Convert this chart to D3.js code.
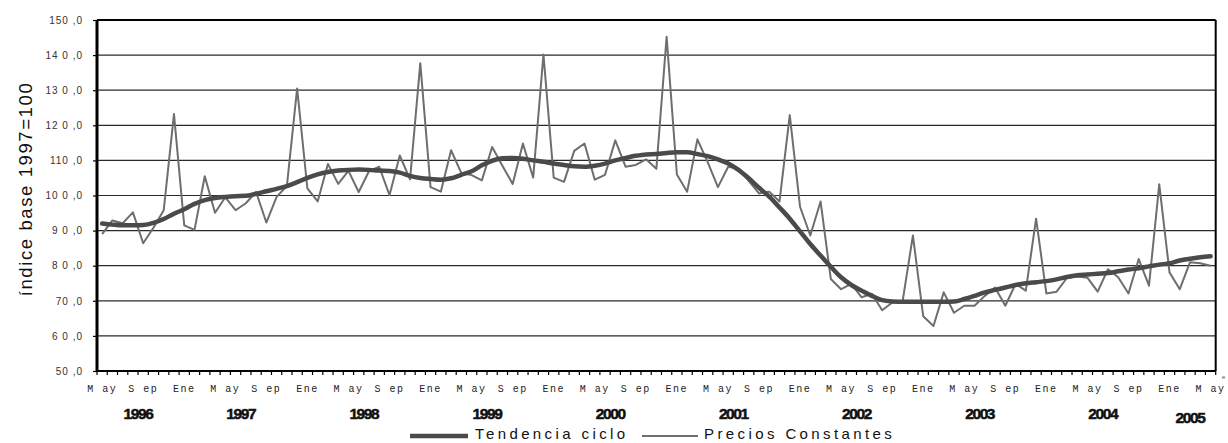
<!DOCTYPE html>
<html>
<head>
<meta charset="utf-8">
<script src="https://cdn.jsdelivr.net/npm/d3@7"></script>
<style>
  body { margin: 0; background: #fff; }
  svg { display: block; }
  .ytick text { font-family: "Liberation Sans", Arial, sans-serif; font-size: 10px; letter-spacing: 1px; fill: #333; }
  .mlabel { font-family: "Liberation Mono", monospace; font-size: 10px; letter-spacing: 1.5px; fill: #222; }
  .ylabel { font-family: "Liberation Sans", Arial, sans-serif; font-size: 15.5px; font-weight: bold; letter-spacing: -1.4px; fill: #111; stroke: #111; stroke-width: 0.5px; }
  .legend text { font-family: "Liberation Sans", Arial, sans-serif; font-size: 15px; letter-spacing: 3.4px; fill: #111; }
</style>
</head>
<body>
<div id="chart"></div>
<script>
var svgWidth = 1228;
var svgHeight = 443;

var margin = { top: 20, right: 12.3, bottom: 72, left: 97 };
var width = svgWidth - margin.left - margin.right;
var height = svgHeight - margin.top - margin.bottom;

// months May 1996 .. May 2005
var monthNames = ["Ene", "Feb", "Mar", "Abr", "May", "Jun", "Jul", "Ago", "Sep", "Oct", "Nov", "Dic"];
var categories = [];
for (var yr = 1996; yr <= 2005; yr++) {
    for (var m = 0; m < 12; m++) {
        if (yr === 1996 && m < 4) continue;
        if (yr === 2005 && m > 4) continue;
        categories.push({ year: yr, month: monthNames[m] });
    }
}

var years = [1996, 1997, 1998, 1999, 2000, 2001, 2002, 2003, 2004, 2005];

var tendencia = [
    92.0, 91.7, 91.5, 91.5, 91.6, 92.2, 93.3, 94.8, 96.1, 97.6, 98.7, 99.3,
    99.6, 99.8, 99.9, 100.5, 101.2, 101.9, 102.7, 103.8, 105.0, 106.0, 106.7, 107.1,
    107.3, 107.4, 107.3, 107.1, 107.0, 106.5, 105.6, 105.0, 104.7, 104.5, 104.9, 105.9,
    106.9, 108.6, 109.9, 110.6, 110.7, 110.5, 110.0, 109.6, 109.1, 108.7, 108.3, 108.2,
    108.5, 109.1, 110.0, 110.7, 111.3, 111.7, 111.8, 112.1, 112.3, 112.3, 111.8, 111.2,
    110.3, 109.1, 107.3, 104.9, 102.2, 99.7, 96.6, 93.4, 89.8, 86.2, 82.9, 79.7,
    76.7, 74.5, 72.9, 71.4, 70.2, 69.8, 69.7, 69.7, 69.7, 69.7, 69.7, 69.8,
    70.5, 71.4, 72.4, 73.1, 73.8, 74.5, 75.0, 75.3, 75.6, 76.1, 76.8, 77.3,
    77.5, 77.7, 77.9, 78.4, 78.9, 79.3, 79.8, 80.3, 80.7, 81.5, 82.0, 82.4,
    82.7
];

var precios = [
    89.0, 92.9, 92.1, 95.2, 86.4, 90.8, 95.8, 123.2, 91.5, 90.2, 105.5, 95.1,
    99.5, 95.8, 97.8, 101.0, 92.3, 99.6, 102.7, 130.5, 102.0, 98.3, 109.0, 103.3,
    107.0, 101.0, 106.9, 108.2, 100.1, 111.4, 104.6, 137.7, 102.4, 101.1, 112.9, 106.4,
    105.8, 104.3, 113.8, 108.5, 103.3, 114.8, 105.1, 140.2, 105.1, 103.9, 112.7, 114.8,
    104.5, 105.9, 115.7, 108.2, 108.7, 110.3, 107.6, 145.2, 106.0, 101.1, 116.0, 109.5,
    102.4, 108.2, 107.6, 104.2, 100.6, 101.1, 98.3, 122.9, 96.8, 88.6, 98.3, 76.2,
    73.3, 74.8, 71.0, 72.0, 67.3, 69.5, 70.0, 88.6, 65.6, 62.8, 72.4, 66.6,
    68.6, 68.6, 71.4, 73.8, 68.6, 74.8, 72.9, 93.4, 72.1, 72.6, 76.5, 76.9,
    76.6, 72.6, 79.0, 76.7, 72.1, 81.9, 74.3, 103.2, 78.1, 73.3, 81.0, 80.7,
    80.0
];

var yTicks = [50, 60, 70, 80, 90, 100, 110, 120, 130, 140, 150];
var yTickLabels = ["50 ,0", "6 0 ,0", "70 ,0", "8 0 ,0", "9 0 ,0", "10 0 ,0", "110 ,0", "12 0 ,0", "13 0 ,0", "14 0 ,0", "150 ,0"];
var monthTickText = { "May": "M ay", "Sep": "S ep", "Ene": "Ene" };

var svg = d3.select("#chart")
    .append("svg")
    .attr("width", svgWidth)
    .attr("height", svgHeight);

var chartGroup = svg.append("g")
    .attr("transform", `translate(${margin.left}, ${margin.top})`);

var xBand = d3.scaleBand()
    .domain(d3.range(categories.length))
    .range([0, width]);
var xPos = i => xBand(i) + xBand.bandwidth() / 2;

var yLinearScale = d3.scaleLinear()
    .domain([50, 150])
    .range([height, 0]);

// gridlines
chartGroup.append("g")
    .selectAll("line")
    .data(yTicks.filter(d => d > 50 && d < 150))
    .enter()
    .append("line")
    .attr("x1", 0)
    .attr("x2", width)
    .attr("y1", d => yLinearScale(d))
    .attr("y2", d => yLinearScale(d))
    .attr("stroke", "#2a2a2a")
    .attr("stroke-width", 1.2);

// left axis
var leftAxis = d3.axisLeft(yLinearScale)
    .tickValues(yTicks)
    .tickSize(4)
    .tickPadding(10)
    .tickFormat((d, i) => yTickLabels[i]);

var yAxisG = chartGroup.append("g")
    .attr("class", "ytick")
    .call(leftAxis);
yAxisG.select(".domain").remove();
yAxisG.selectAll("line").attr("stroke", "#000").attr("stroke-width", 1.2);

// bottom tick marks between months
chartGroup.append("g")
    .selectAll("line")
    .data(d3.range(categories.length + 1))
    .enter()
    .append("line")
    .attr("x1", d => d * xBand.bandwidth())
    .attr("x2", d => d * xBand.bandwidth())
    .attr("y1", height)
    .attr("y2", height + 4)
    .attr("stroke", "#000")
    .attr("stroke-width", 1.2);

// month labels every 4 months
chartGroup.append("g")
    .selectAll("text")
    .data(categories.map((c, i) => ({ c: c, i: i })).filter(d => d.i % 4 === 0))
    .enter()
    .append("text")
    .attr("class", "mlabel")
    .attr("x", d => xPos(d.i))
    .attr("y", height + 21)
    .attr("text-anchor", "middle")
    .text(d => monthTickText[d.c.month]);

// year labels centred under their months
chartGroup.append("g")
    .selectAll("text")
    .data(years)
    .enter()
    .append("text")
    .attr("class", "ylabel")
    .attr("x", function (yr) {
        var idx = categories.map((c, i) => c.year === yr ? i : -1).filter(i => i >= 0);
        return (xPos(idx[0]) + xPos(idx[idx.length - 1])) / 2;
    })
    .attr("y", yr => height + (yr === 2005 ? 51.5 : 47.5))
    .attr("text-anchor", "middle")
    .text(d => d);

// series lines
var trendLine = d3.line()
    .x((d, i) => xPos(i))
    .y(d => yLinearScale(d))
    .curve(d3.curveMonotoneX);

var priceLine = d3.line()
    .x((d, i) => xPos(i))
    .y(d => yLinearScale(d));

chartGroup.append("path")
    .datum(precios)
    .attr("d", priceLine)
    .attr("fill", "none")
    .attr("stroke", "#6e6e6e")
    .attr("stroke-width", 2)
    .attr("stroke-linejoin", "round");

chartGroup.append("path")
    .datum(tendencia)
    .attr("d", trendLine)
    .attr("fill", "none")
    .attr("stroke", "#4a4a4a")
    .attr("stroke-width", 4.5)
    .attr("stroke-linecap", "round");

// frame
chartGroup.append("line").attr("x1", 0).attr("x2", width).attr("y1", 0).attr("y2", 0)
    .attr("stroke", "#000").attr("stroke-width", 2);
chartGroup.append("line").attr("x1", width).attr("x2", width).attr("y1", 0).attr("y2", height)
    .attr("stroke", "#000").attr("stroke-width", 2);
chartGroup.append("line").attr("x1", 0).attr("x2", width).attr("y1", height).attr("y2", height)
    .attr("stroke", "#000").attr("stroke-width", 2);
chartGroup.append("line").attr("x1", 0).attr("x2", 0).attr("y1", 0).attr("y2", height)
    .attr("stroke", "#000").attr("stroke-width", 3);

// small stray mark at the corner
chartGroup.append("text")
    .attr("x", width + 6)
    .attr("y", height + 8)
    .attr("font-family", "Liberation Mono, monospace")
    .attr("font-size", "6px")
    .attr("fill", "#444")
    .text("e");

// y axis title
svg.append("text")
    .attr("transform", "rotate(-90)")
    .attr("x", -189)
    .attr("y", 32)
    .attr("text-anchor", "middle")
    .attr("font-family", "Liberation Sans, Arial, sans-serif")
    .attr("font-size", "18.5px")
    .attr("letter-spacing", "1.6px")
    .attr("fill", "#111")
    .text("índice base 1997=100");

// legend
var legend = svg.append("g").attr("class", "legend");
legend.append("line").attr("x1", 410).attr("x2", 468).attr("y1", 436).attr("y2", 436)
    .attr("stroke", "#4a4a4a").attr("stroke-width", 4.5);
legend.append("text").attr("x", 475).attr("y", 439).text("Tendencia ciclo");
legend.append("line").attr("x1", 642).attr("x2", 698).attr("y1", 436).attr("y2", 436)
    .attr("stroke", "#6e6e6e").attr("stroke-width", 2);
legend.append("text").attr("x", 704).attr("y", 439).text("Precios Constantes");
</script>
</body>
</html>
